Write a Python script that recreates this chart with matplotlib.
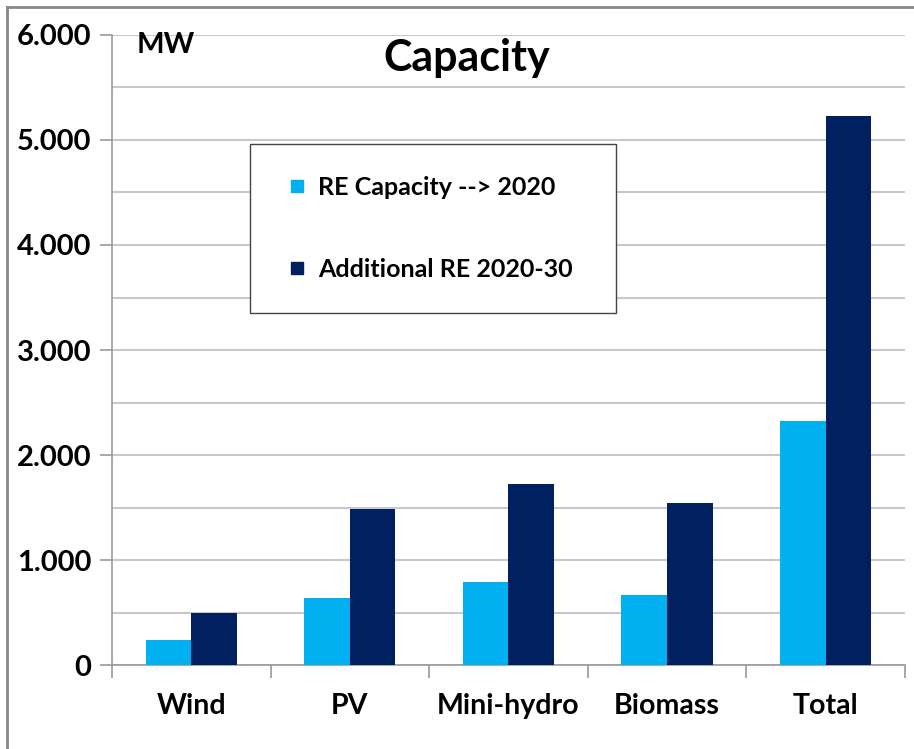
import numpy as np
import matplotlib
matplotlib.use("Agg")
import matplotlib.pyplot as plt
from matplotlib.lines import Line2D
from matplotlib.ticker import FuncFormatter, MultipleLocator

categories = ["Wind", "PV", "Mini-hydro", "Biomass", "Total"]
re_2020 = [240, 640, 790, 670, 2320]
additional_2030 = [500, 1490, 1720, 1540, 5230]
series_names = ["RE Capacity --> 2020", "Additional RE 2020-30"]
colors = ["#00B0F0", "#002060"]


def main():
    plt.rcParams["font.family"] = ["Lato", "DejaVu Sans"]
    plt.rcParams["font.weight"] = "bold"

    fig = plt.figure(figsize=(9.14, 7.49), dpi=100)
    ax = fig.add_axes([0.1225, 0.1121, 0.8675, 0.8412])

    x = np.arange(len(categories))
    w = 0.287
    ax.bar(x - w / 2, re_2020, w, color=colors[0], zorder=3)
    ax.bar(x + w / 2, additional_2030, w, color=colors[1], zorder=3)

    ax.set_xlim(-0.5, len(categories) - 0.5)
    ax.set_ylim(0, 6000)
    ax.yaxis.set_major_locator(MultipleLocator(1000))
    ax.yaxis.set_minor_locator(MultipleLocator(500))
    ax.yaxis.set_major_formatter(FuncFormatter(lambda v, p: f"{int(v):,}".replace(",", ".")))
    ax.grid(axis="y", which="both", color="#C8C8C8", linewidth=1.5, zorder=0)
    ax.tick_params(axis="y", which="major", length=9, width=1.2, color="#999999",
                   labelsize=21, pad=6)
    ax.tick_params(axis="y", which="minor", length=0)

    # category ticks sit on the boundaries, labels in the middle
    ax.set_xticks(np.arange(-0.5, len(categories)), minor=False)
    ax.set_xticklabels([])
    ax.set_xticks(x, minor=True)
    ax.set_xticklabels(categories, minor=True)
    ax.tick_params(axis="x", which="major", length=9, width=1.2, color="#999999")
    ax.tick_params(axis="x", which="minor", length=0, labelsize=20.5, pad=20)

    for side in ["top", "right"]:
        ax.spines[side].set_visible(False)
    for side in ["left", "bottom"]:
        ax.spines[side].set_color("#999999")
        ax.spines[side].set_linewidth(1.2)

    fig.text(0.511, 0.922, "Capacity", ha="center", va="center", fontsize=31, fontweight="bold")
    fig.text(0.149, 0.94, "MW", ha="left", va="center", fontsize=21, fontweight="bold")

    handles = [Line2D([], [], marker="s", linestyle="none", markersize=9,
                      color=c) for c in colors]
    fig.legend(handles, series_names, loc="upper left",
               bbox_to_anchor=(0.2735, 0.582, 0.4005, 0.2257),
               bbox_transform=fig.transFigure, mode="expand", borderaxespad=0,
               fontsize=18, frameon=True, fancybox=False, edgecolor="#444444",
               framealpha=1, borderpad=1.28, labelspacing=2.36, handlelength=1.2,
               handletextpad=0.24)

    # outer chart frame (top and left edges visible)
    fig.add_artist(Line2D([0.0077, 0.0077], [0, 0.9907], transform=fig.transFigure,
                          color="#888888", linewidth=2))
    fig.add_artist(Line2D([0.0077, 1], [0.9907, 0.9907], transform=fig.transFigure,
                          color="#888888", linewidth=2))

    fig.savefig("out.png", dpi=100)


if __name__ == "__main__":
    main()
